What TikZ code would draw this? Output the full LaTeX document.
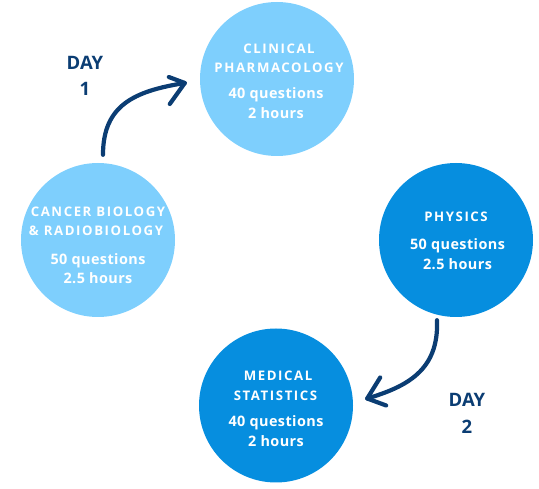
\documentclass[tikz,border=0pt]{standalone}
\usepackage{fontspec}
\setmainfont{Open Sans}
\newfontfamily\spacedfont[LetterSpace=12]{Open Sans}
\newfontfamily\infofont[LetterSpace=3]{Open Sans}
\usetikzlibrary{arrows.meta}
\definecolor{lightc}{HTML}{7ECFFD}
\definecolor{darkc}{HTML}{068EDF}
\definecolor{navy}{HTML}{0B3D73}
\begin{document}
\begin{tikzpicture}[x=1pt,y=-1pt,
  bubble/.style={circle, minimum size=154pt, inner sep=0pt, draw=none},
  ttl/.style={anchor=base, inner sep=0pt, text=white, font=\spacedfont\bfseries\fontsize{13.2}{15}\selectfont},
  info/.style={anchor=base, inner sep=0pt, text=white, font=\infofont\bfseries\fontsize{14.4}{16}\selectfont},
  daylbl/.style={anchor=base, inner sep=0pt, text=navy, font=\bfseries\fontsize{18.5}{20}\selectfont},
  arr/.style={draw=navy, line width=4.2pt, line cap=round, line join=round}]
\useasboundingbox (0,0) rectangle (539,489);
% circles
\node[bubble, fill=lightc] (clin) at (277,79) {};
\node[bubble, fill=lightc] (canc) at (98,240) {};
\node[bubble, fill=darkc] (phys) at (456,240) {};
\node[bubble, fill=darkc] (med) at (276,405.5) {};
% clinical
\node[ttl] (clin1) at (279,54) {CLINICAL};
\node[ttl] (clin2) at (279,72.7) {PHARMACOLOGY};
\node[info] (clin3) at (276,99) {40 questions};
\node[info] (clin4) at (276,119) {2 hours};
% cancer
\node[ttl] (canc1) at (98,217) {CANCER BIOLOGY};
\node[ttl] (canc2) at (96,236) {\& RADIOBIOLOGY};
\node[info] (canc3) at (98,264.3) {50 questions};
\node[info] (canc4) at (98,283.3) {2.5 hours};
% physics
\node[ttl] (phys1) at (456,221.7) {PHYSICS};
\node[info] (phys2) at (457.5,250) {50 questions};
\node[info] (phys3) at (457.5,269.3) {2.5 hours};
% medical
\node[ttl] (med1) at (278,380.7) {MEDICAL};
\node[ttl] (med2) at (275.5,401) {STATISTICS};
\node[info] (med3) at (276,426.7) {40 questions};
\node[info] (med4) at (276,446.7) {2 hours};
% day labels
\node[daylbl] (day1a) at (85,70) {DAY};
\node[daylbl] (day1b) at (85,96) {1};
\node[daylbl] (day2a) at (467,406.7) {DAY};
\node[daylbl] (day2b) at (467,433.3) {2};
% arrows
\coordinate (a1s) at ([shift={(5,-8)}]canc.north);
\coordinate (a1e) at ([shift={(-15,4)}]clin.west);
\draw[arr] (a1s) .. controls +(0,-50) and +(-50,8) .. (a1e);
\draw[arr] ([shift={(-16,-6)}]a1e) -- (a1e) -- ([shift={(-15,21)}]a1e);
\coordinate (a2s) at ([shift={(-19,3)}]phys.south);
\coordinate (a2e) at ([shift={(14,-7)}]med.east);
\draw[arr] (a2s) .. controls +(2,50) and +(40,-12) .. (a2e);
\draw[arr] ([shift={(13,-21)}]a2e) -- (a2e) -- ([shift={(19,7)}]a2e);
\end{tikzpicture}
\end{document}
